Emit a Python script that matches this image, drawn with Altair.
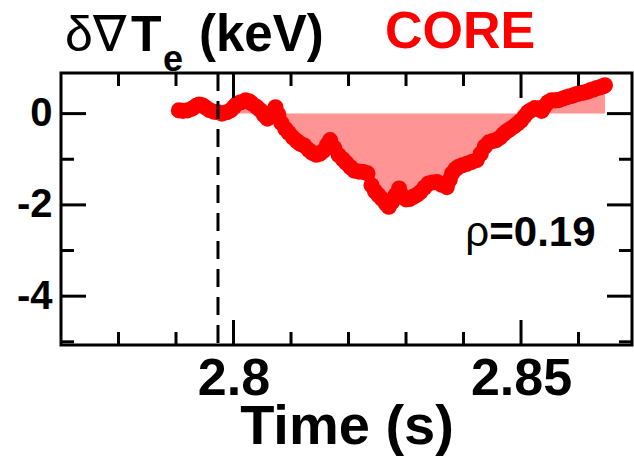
import altair as alt
import pandas as pd

# ---- data ----
time_s = [
    2.7905, 2.7912, 2.7920, 2.7928, 2.7935, 2.7940, 2.7946, 2.7951, 2.7958, 2.7966,
    2.7973, 2.7980, 2.7988, 2.7995, 2.8001, 2.8006, 2.8013, 2.8021, 2.8027, 2.8032,
    2.8040, 2.8047, 2.8053, 2.8059, 2.8066, 2.8073, 2.8078, 2.8083, 2.8090, 2.8096,
    2.8103, 2.8110, 2.8116, 2.8123, 2.8131, 2.8137, 2.8144, 2.8150, 2.8156, 2.8163,
    2.8168, 2.8175, 2.8183, 2.8190, 2.8196, 2.8203, 2.8210, 2.8218, 2.8226, 2.8233,
    2.8240, 2.8246, 2.8252, 2.8259, 2.8265, 2.8270, 2.8276, 2.8282, 2.8288, 2.8294,
    2.8300, 2.8306, 2.8313, 2.8319, 2.8325, 2.8332, 2.8339, 2.8346, 2.8354, 2.8362,
    2.8371, 2.8376, 2.8380, 2.8386, 2.8391, 2.8398, 2.8406, 2.8414, 2.8423, 2.8430,
    2.8437, 2.8444, 2.8451, 2.8457, 2.8464, 2.8470, 2.8476, 2.8481, 2.8488, 2.8494,
    2.8500, 2.8506, 2.8512, 2.8518, 2.8524, 2.8530, 2.8536, 2.8541, 2.8547, 2.8553,
    2.8560, 2.8566, 2.8573, 2.8579, 2.8585, 2.8591, 2.8597, 2.8603, 2.8609, 2.8615,
    2.8620, 2.8626, 2.8632, 2.8638, 2.8643, 2.8646,
]
dgrad_te = [
    0.07, 0.06, 0.07, 0.11, 0.17, 0.20, 0.18, 0.14, 0.08, 0.04,
    0.03, 0.00, 0.03, 0.07, 0.15, 0.22, 0.25, 0.29, 0.27, 0.22,
    0.15, 0.07, -0.03, -0.11, 0.02, 0.14, -0.02, -0.20, -0.33, -0.42,
    -0.52, -0.60, -0.66, -0.70, -0.80, -0.86, -0.90, -0.88, -0.82, -0.68,
    -0.58, -0.75, -0.91, -1.00, -1.08, -1.17, -1.25, -1.27, -1.28, -1.31,
    -1.57, -1.70, -1.79, -1.88, -1.97, -2.04, -1.93, -1.78, -1.64, -1.80,
    -1.88, -1.87, -1.82, -1.78, -1.72, -1.62, -1.53, -1.51, -1.50, -1.56,
    -1.61, -1.45, -1.31, -1.22, -1.17, -1.13, -1.10, -1.06, -1.02, -0.88,
    -0.72, -0.63, -0.60, -0.58, -0.52, -0.44, -0.38, -0.34, -0.28, -0.22,
    -0.15, -0.06, 0.03, 0.08, 0.12, 0.11, 0.06, 0.16, 0.25, 0.29,
    0.29, 0.30, 0.33, 0.36, 0.38, 0.40, 0.43, 0.45, 0.46, 0.48,
    0.51, 0.53, 0.56, 0.58, 0.60, 0.62,
]
x_major = [2.8, 2.85]
x_minor = [2.78, 2.79, 2.81, 2.82, 2.83, 2.84, 2.86]
y_major = [0, -2, -4]
y_minor = [-1, -3, -5]
x_domain = [2.77, 2.8693]
y_domain = [-5.07, 0.89]
marker_time = [2.7973]
rho_pos = [2.8403]
rho_val = [-2.90]

FONT = "Liberation Sans"
W, H = 571, 272
MAJ, MIN = 25, 13

df = pd.DataFrame({"t": time_s, "v": dgrad_te})
xs = alt.Scale(domain=x_domain, nice=False, zero=False)
ys = alt.Scale(domain=y_domain, nice=False, zero=False)

x_axis = alt.Axis(values=x_major, format="~g", labelFontSize=52, labelPadding=8,
                  labelFont=FONT, labelFontWeight="bold", labelColor="black",
                  labelFlush=False, title="Time (s)", titleFont=FONT,
                  titleFontSize=56, titleFontWeight="bold", titleColor="black",
                  titlePadding=-5, ticks=False, domain=False, grid=False)
y_axis = alt.Axis(values=y_major, labelFontSize=40, labelPadding=9,
                  labelFont=FONT, labelFontWeight="bold", labelColor="black",
                  labelExpr="replace(datum.label, '\u2212', '-')",
                  title="", ticks=False, domain=False, grid=False)

X = alt.X("t:Q", scale=xs, axis=x_axis)
Y = alt.Y("v:Q", scale=ys, axis=y_axis)

area = alt.Chart(df).transform_filter("datum.t >= 2.8").mark_area(
    color="#ff0000", opacity=0.42, interpolate="linear"
).encode(x=X, y=Y, y2=alt.datum(0))

points = alt.Chart(df).mark_circle(color="#ff0000", size=260, opacity=1).encode(x=X, y=Y)

dashed = alt.Chart(pd.DataFrame({"t": marker_time})).mark_rule(
    color="black", strokeWidth=3, strokeDash=[18, 10]
).encode(x=X)


def xticks(vals, length):
    d = alt.Chart(pd.DataFrame({"t": vals}))
    m = dict(color="black", strokeWidth=3)
    bot = d.mark_rule(**m).encode(x=X, y=alt.value(H), y2=alt.value(H - length))
    top = d.mark_rule(**m).encode(x=X, y=alt.value(0), y2=alt.value(length))
    return [bot, top]


def yticks(vals, length):
    d = alt.Chart(pd.DataFrame({"v": vals}))
    m = dict(color="black", strokeWidth=3)
    left = d.mark_rule(**m).encode(y=Y, x=alt.value(0), x2=alt.value(length))
    right = d.mark_rule(**m).encode(y=Y, x=alt.value(W), x2=alt.value(W - length))
    return [left, right]


one = pd.DataFrame({"a": [0]})


def label(text, x, y, size, color="black", weight="bold"):
    return alt.Chart(one).mark_text(
        text=text, font=FONT, fontSize=size, fontWeight=weight, color=color,
        align="left", baseline="alphabetic"
    ).encode(x=alt.value(x), y=alt.value(y))


titles = [
    label("δ∇", 4, -22, 50, weight="normal"),
    label("T", 70, -22, 50),
    label("e", 102, -2, 36),
    label("(keV)", 138, -22, 51),
    label("CORE", 324, -25, 52, color="#ff0000"),
]

rho_df = pd.DataFrame({"t": rho_pos, "v": rho_val})
rho = alt.Chart(rho_df).mark_text(
    text="ρ", font=FONT, fontSize=42, fontWeight="normal", color="black",
    align="left", baseline="alphabetic"
).encode(x=X, y=Y)
rho_num = alt.Chart(rho_df).mark_text(
    text="=0.19", font=FONT, fontSize=42, fontWeight="bold", color="black",
    align="left", baseline="alphabetic", dx=24
).encode(x=X, y=Y)

layers = [area, points, dashed] + xticks(x_major, MAJ) + xticks(x_minor, MIN) \
    + yticks(y_major, MAJ) + yticks(y_minor, MIN) + titles + [rho, rho_num]

chart = alt.layer(*layers).properties(
    width=W, height=H,
    padding={"left": 61, "top": 73, "right": 2, "bottom": 117},
    autosize=alt.AutoSizeParams(type="none"),
    background="white",
).configure_view(stroke="black", strokeWidth=3)

chart.save("out.html", embed_options={"renderer": "svg", "actions": False})
